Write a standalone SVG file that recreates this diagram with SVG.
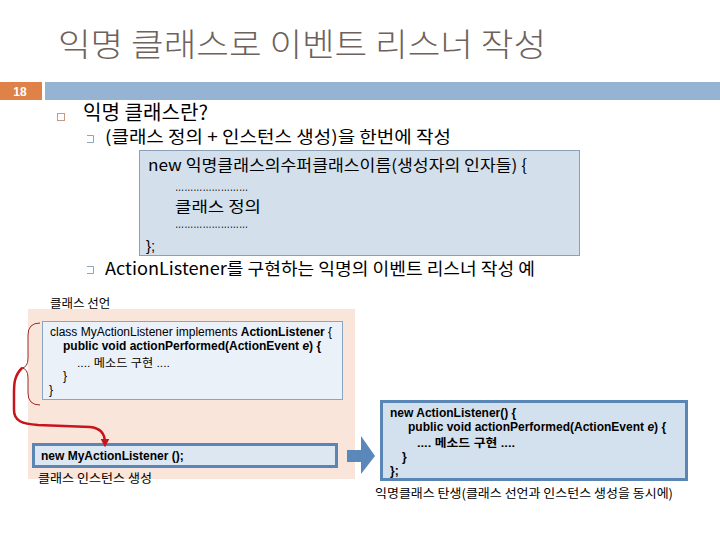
<svg xmlns="http://www.w3.org/2000/svg" width="720" height="540" viewBox="0 0 720 540">
<defs>
<style>
text{font-family:"Liberation Sans","Noto Sans CJK KR",sans-serif;fill:#000}
.ko{font-family:"Noto Sans CJK KR","Liberation Sans",sans-serif}
.title{font-size:32px;fill:#6e625c;font-weight:300}
.l1{font-size:20px}
.l2{font-size:17px}
.code1{font-size:16px}
.dots{font-size:12px}
.sm{font-size:12px}
.kosm{font-size:12.5px}
.b{font-weight:bold}
.sub{fill:none;stroke:#8ea4ba;stroke-width:1}
</style>
<marker id="ah" viewBox="0 0 10 10" refX="5" refY="5" markerWidth="3.5" markerHeight="3.5" orient="auto">
<path d="M0,0 L10,5 L0,10 z" fill="#c8141c"/>
</marker>
</defs>
<rect width="720" height="540" fill="#ffffff"/>

<g id="header">
<text class="title ko" x="58" y="56" textLength="488" lengthAdjust="spacingAndGlyphs">익명 클래스로 이벤트 리스너 작성</text>
<rect x="0" y="82" width="42" height="18" fill="#df8247"/>
<text x="20" y="96" font-size="12" font-weight="bold" text-anchor="middle" style="fill:#ffffff">18</text>
<rect x="45" y="82" width="675" height="18" fill="#95b3d3"/>
</g>

<g id="bullets">
<rect x="57.5" y="113.5" width="7" height="7" fill="none" stroke="#c49a80" stroke-width="1"/>
<text class="l1 ko" x="83" y="120" textLength="125" lengthAdjust="spacingAndGlyphs">익명 클래스란?</text>
<path class="sub" d="M87,135.5 H93.5 V142.5 H87"/>
<text class="l2 ko" x="105" y="143" textLength="346" lengthAdjust="spacingAndGlyphs">(클래스 정의 + 인스턴스 생성)을 한번에 작성</text>
<path class="sub" d="M87,266.5 H93.5 V273.5 H87"/>
<text class="l2 ko" x="105" y="275" textLength="430" lengthAdjust="spacingAndGlyphs">ActionListener를 구현하는 익명의 이벤트 리스너 작성 예</text>
</g>

<g id="syntax-box">
<rect x="139.5" y="150.5" width="440" height="105" fill="#d3e0ec" stroke="#8aa0b8" stroke-width="1"/>
<text class="code1 ko" x="148" y="171" textLength="379" lengthAdjust="spacingAndGlyphs">new 익명클래스의수퍼클래스이름(생성자의 인자들) {</text>
<text class="dots" x="175" y="191" textLength="73" lengthAdjust="spacingAndGlyphs">……………………</text>
<text class="ko" x="175" y="212" font-size="15" textLength="86" lengthAdjust="spacingAndGlyphs">클래스 정의</text>
<text class="dots" x="175" y="228" textLength="73" lengthAdjust="spacingAndGlyphs">……………………</text>
<text x="146" y="251" font-size="15">};</text>
</g>

<g id="class-area">
<rect x="28" y="309" width="327" height="170" fill="#f9e5d9"/>
<text class="kosm ko" x="50" y="308">클래스 선언</text>
</g>

<g id="class-decl">
<rect x="42.5" y="321.5" width="300" height="78" fill="#eaf1f8" stroke="#8aa5c2" stroke-width="1"/>
<text class="sm" x="50" y="336" font-size="11.8">class MyActionListener implements <tspan class="b">ActionListener</tspan> {</text>
<text class="sm b" x="63" y="350">public void actionPerformed(ActionEvent <tspan font-style="italic">e</tspan>) {</text>
<text x="77" y="367" font-size="11" textLength="93" lengthAdjust="spacingAndGlyphs">.... 메소드 구현 ....</text>
<text class="sm" x="63" y="380">}</text>
<text class="sm" x="49" y="394">}</text>
</g>

<g id="instance">
<rect x="33.5" y="444.5" width="303" height="22" fill="#dce7f2" stroke="#5a86b6" stroke-width="3"/>
<text class="sm b" x="41" y="460">new MyActionListener ();</text>
<text class="kosm ko" x="38" y="483" textLength="114" lengthAdjust="spacingAndGlyphs">클래스 인스턴스 생성</text>
</g>

<g id="anonymous">
<rect x="381.5" y="401.5" width="305" height="78" fill="#d3e1ee" stroke="#5a86b6" stroke-width="3"/>
<text class="sm b" x="390" y="417">new ActionListener() {</text>
<text class="sm b" x="408" y="431">public void actionPerformed(ActionEvent <tspan font-style="italic">e</tspan>) {</text>
<text class="b" x="417" y="447" font-size="11.5" textLength="98" lengthAdjust="spacingAndGlyphs">.... 메소드 구현 ....</text>
<text class="sm b" x="402" y="461">}</text>
<text class="sm b" x="390" y="475">};</text>
<text class="kosm ko" x="375" y="498" textLength="298" lengthAdjust="spacingAndGlyphs">익명클래스 탄생(클래스 선언과 인스턴스 생성을 동시에)</text>
</g>

<g id="connectors">
<path d="M40,323 Q28,323 28,335 L28,358 Q28,368 21,368 Q28,368 28,378 L28,393 Q28,405 40,405" fill="none" stroke="#a02828" stroke-width="1"/>
<path d="M22,368 C14,376 14,384 14,394 L14,410 C14,421 22,424 38,425 L90,427 C101,428 105,434 105,443" fill="none" stroke="#c8141c" stroke-width="2.5" marker-end="url(#ah)"/>
<polygon points="347,450 361,450 361,436 375,456 361,474 361,462 347,462" fill="#5a88ba"/>
</g>
</svg>
